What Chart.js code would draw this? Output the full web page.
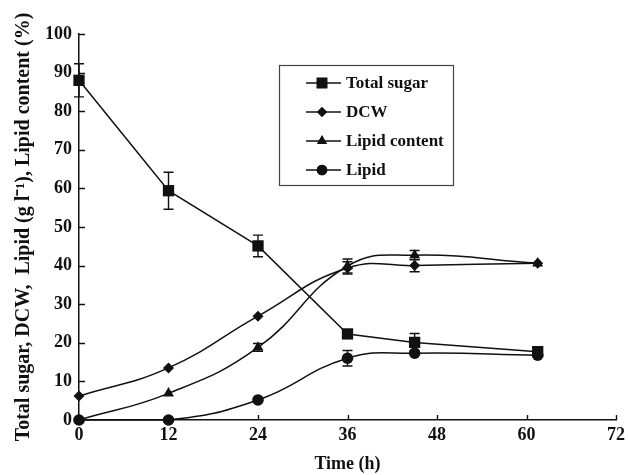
<!DOCTYPE html>
<html>
<head>
<meta charset="utf-8">
<script src="https://cdn.jsdelivr.net/npm/chart.js@4.4.0/dist/chart.umd.min.js"></script>
<style>
  html, body { margin: 0; padding: 0; background: #fff; }
</style>
</head>
<body>
<canvas id="chart" width="628" height="475"></canvas>
<script>
// DATA
var time_h = [0, 12, 24, 36, 45, 61.5]
var total_sugar = [88, 59.4, 45.1, 22.3, 20.1, 17.7]
var total_sugar_err = [4.3, 4.8, 2.8, 0.5, 2.3, 0]
var dcw = [6.2, 13.5, 26.9, 39.4, 40, 40.6]
var dcw_err = [0, 0, 0, 1.6, 1.6, 0]
var lipid_content = [0, 6.9, 18.8, 39.9, 42.7, 40.6]
var lipid_content_err = [0, 0, 1, 1.8, 1.2, 0]
var lipid = [0, 0, 5.2, 16, 17.3, 16.8]
var lipid_err = [0, 0, 0, 2, 0, 0]
var series_names = ['Total sugar', 'DCW', 'Lipid content', 'Lipid']
var x_ticks = [0, 12, 24, 36, 48, 60, 72]
var y_ticks = [0, 10, 20, 30, 40, 50, 60, 70, 80, 90, 100]

var FONT = 'Liberation Serif, "Times New Roman", serif'
var INK = '#111'

function pts(vals) {
  return time_h.map(function (t, i) { return { x: t, y: vals[i] } })
}

var errors = [total_sugar_err, dcw_err, lipid_content_err, lipid_err]
var styles = ['rect', 'rectRot', 'triangle', 'circle']
var radii = [8, 5.5, 6.3, 5.8]
var tensions = [0, 0.45, 0.45, 0.45]
var values = [total_sugar, dcw, lipid_content, lipid]

var datasets = []
for (let i in values) {
  datasets.push({
    label: series_names[i],
    data: pts(values[i]),
    borderColor: INK,
    backgroundColor: INK,
    borderWidth: 1.5,
    pointStyle: styles[i],
    pointRadius: radii[i],
    pointBorderWidth: 0,
    pointBackgroundColor: INK,
    tension: tensions[i],
    clip: false
  })
}

// error bars, inward ticks and the boxed legend
var extras = {
  id: 'extras',
  afterDatasetsDraw: function (chart) {
    var ctx = chart.ctx
    var xs = chart.scales.x, ys = chart.scales.y
    ctx.save()
    ctx.strokeStyle = INK
    ctx.lineWidth = 1.4
    chart.data.datasets.forEach(function (ds, i) {
      ds.data.forEach(function (p, j) {
        var e = errors[i][j]
        if (!e) return
        var px = xs.getPixelForValue(p.x)
        var t = ys.getPixelForValue(p.y + e)
        var b = ys.getPixelForValue(p.y - e)
        ctx.beginPath()
        ctx.moveTo(px, t); ctx.lineTo(px, b)
        ctx.moveTo(px - 5, t); ctx.lineTo(px + 5, t)
        ctx.moveTo(px - 5, b); ctx.lineTo(px + 5, b)
        ctx.stroke()
      })
    })
    ctx.restore()
  },
  afterDraw: function (chart) {
    var ctx = chart.ctx
    var xs = chart.scales.x, ys = chart.scales.y
    var area = chart.chartArea
    ctx.save()
    ctx.strokeStyle = INK
    ctx.lineWidth = 1.4
    ctx.beginPath()
    y_ticks.forEach(function (v) {
      var py = Math.round(ys.getPixelForValue(v)) + 0.5
      ctx.moveTo(area.left, py); ctx.lineTo(area.left + 6, py)
    })
    x_ticks.forEach(function (v) {
      var px = Math.round(xs.getPixelForValue(v)) + 0.5
      ctx.moveTo(px, area.bottom); ctx.lineTo(px, area.bottom - 5)
    })
    ctx.stroke()

    // legend box
    var bx = 279, by = 65, bw = 174, bh = 120
    ctx.strokeStyle = '#444'
    ctx.lineWidth = 1.2
    ctx.strokeRect(bx + 0.5, by + 0.5, bw, bh)
    ctx.font = 'bold 17px ' + FONT
    ctx.textBaseline = 'middle'
    ctx.fillStyle = INK
    chart.data.datasets.forEach(function (ds, i) {
      var cy = by + 18 + i * 29
      ctx.strokeStyle = INK
      ctx.lineWidth = 1.5
      ctx.beginPath()
      ctx.moveTo(bx + 27, cy); ctx.lineTo(bx + 62, cy)
      ctx.stroke()
      Chart.helpers.drawPoint(ctx, {
        pointStyle: styles[i], radius: radii[i] - 0.5, borderWidth: 0, rotation: 0
      }, bx + 43, cy)
      ctx.fill()
      ctx.fillText(ds.label, bx + 67, cy + 1)
    })
    ctx.restore()
  }
}

var chart_config = {
  type: 'line',
  data: { datasets: datasets },
  options: {
    responsive: false,
    devicePixelRatio: 1,
    animation: false,
    layout: { padding: { top: 34, right: 12, left: 0, bottom: 0 } },
    plugins: { legend: { display: false }, tooltip: { enabled: false } },
    scales: {
      x: {
        type: 'linear', min: 0, max: 72,
        afterBuildTicks: function (s) { s.ticks = x_ticks.map(function (v) { return { value: v } }) },
        afterFit: function (s) { s.height = 55 },
        grid: { display: false },
        border: { display: true, color: INK, width: 1.5 },
        ticks: { color: INK, padding: -3, maxRotation: 0, font: { family: FONT, size: 18, weight: 'bold' } },
        title: { display: true, text: 'Time (h)', color: INK, padding: 0, font: { family: FONT, size: 18, weight: 'bold' } }
      },
      y: {
        type: 'linear', min: 0, max: 100,
        afterBuildTicks: function (s) { s.ticks = y_ticks.map(function (v) { return { value: v } }) },
        afterFit: function (s) { s.width = 79 },
        grid: { display: false },
        border: { display: true, color: INK, width: 1.5 },
        ticks: { color: INK, padding: -1, font: { family: FONT, size: 18, weight: 'bold' } },
        title: { display: true, text: 'Total sugar, DCW,  Lipid (g l\u207B\u00B9), Lipid content (%)', color: INK, padding: { top: 12, bottom: 0 }, font: { family: FONT, size: 20, weight: 'bold' } }
      }
    }
  },
  plugins: [extras]
}

var chart = new Chart(document.getElementById('chart'), chart_config)
</script>
</body>
</html>
